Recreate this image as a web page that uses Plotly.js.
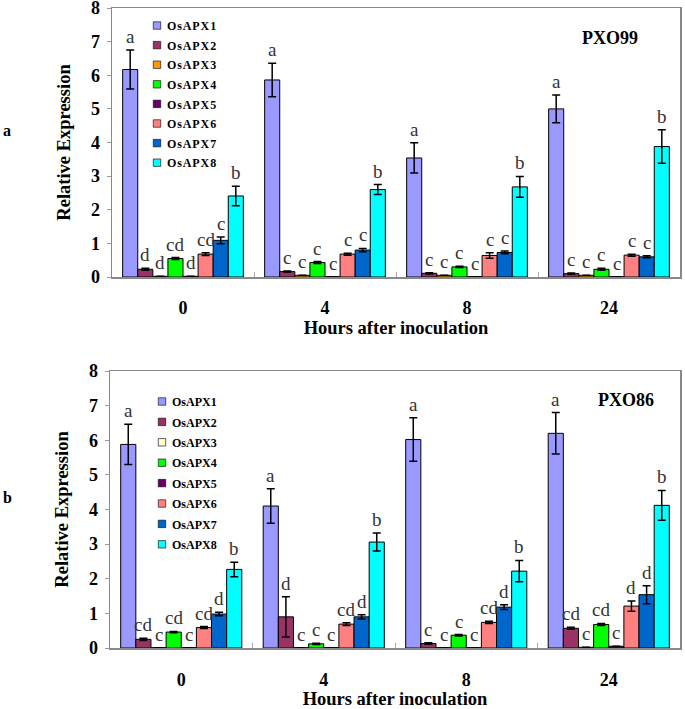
<!DOCTYPE html>
<html><head><meta charset="utf-8">
<script src="https://cdn.plot.ly/plotly-3.0.1.min.js"></script>
<style>
body{margin:0;padding:0;background:#fff;}
#chart{width:685px;height:709px;}
.legendtext{letter-spacing:0.9px;}
.legendpoints path{transform:translate(30px,0px) scale(0.62);}
</style>
</head><body>
<div id="chart"></div>
<script>
// ---- data ----
const hours = ["0", "4", "8", "24"];
const genes = ["OsAPX1","OsAPX2","OsAPX3","OsAPX4","OsAPX5","OsAPX6","OsAPX7","OsAPX8"];

// PXO99 (top panel): one array per gene, across hours 0,4,8,24
const pxo99_APX1 = [6.17, 5.86, 3.54, 5.00];
const pxo99_APX2 = [0.23, 0.16, 0.11, 0.10];
const pxo99_APX3 = [0.02, 0.05, 0.05, 0.05];
const pxo99_APX4 = [0.55, 0.43, 0.30, 0.23];
const pxo99_APX5 = [0.02, 0.01, 0.01, 0.01];
const pxo99_APX6 = [0.68, 0.68, 0.64, 0.65];
const pxo99_APX7 = [1.09, 0.80, 0.73, 0.60];
const pxo99_APX8 = [2.41, 2.60, 2.68, 3.88];
const pxo99_err_APX1 = [0.58, 0.50, 0.45, 0.41];
const pxo99_err_APX2 = [0.03, 0.02, 0.02, 0.02];
const pxo99_err_APX3 = [0, 0, 0, 0];
const pxo99_err_APX4 = [0.03, 0.03, 0.02, 0.03];
const pxo99_err_APX5 = [0, 0, 0, 0];
const pxo99_err_APX6 = [0.04, 0.03, 0.08, 0.03];
const pxo99_err_APX7 = [0.10, 0.05, 0.04, 0.03];
const pxo99_err_APX8 = [0.29, 0.15, 0.31, 0.50];
const pxo99_lab_APX1 = ["a","a","a","a"];
const pxo99_lab_APX2 = ["d","c","c","c"];
const pxo99_lab_APX3 = ["d","c","c","c"];
const pxo99_lab_APX4 = ["cd","c","c","c"];
const pxo99_lab_APX5 = ["d","c","c","c"];
const pxo99_lab_APX6 = ["cd","c","c","c"];
const pxo99_lab_APX7 = ["c","c","c","c"];
const pxo99_lab_APX8 = ["b","b","b","b"];

// PXO86 (bottom panel)
const pxo86_APX1 = [5.88, 4.10, 6.02, 6.20];
const pxo86_APX2 = [0.25, 0.90, 0.13, 0.57];
const pxo86_APX3 = [0.01, 0.01, 0.01, 0.02];
const pxo86_APX4 = [0.46, 0.12, 0.37, 0.68];
const pxo86_APX5 = [0.01, 0.01, 0.01, 0.05];
const pxo86_APX6 = [0.59, 0.69, 0.74, 1.21];
const pxo86_APX7 = [0.98, 0.90, 1.18, 1.54];
const pxo86_APX8 = [2.27, 3.06, 2.22, 4.12];
const pxo86_err_APX1 = [0.58, 0.50, 0.63, 0.60];
const pxo86_err_APX2 = [0.03, 0.58, 0.02, 0.03];
const pxo86_err_APX3 = [0, 0, 0, 0];
const pxo86_err_APX4 = [0.02, 0.02, 0.02, 0.03];
const pxo86_err_APX5 = [0, 0, 0, 0];
const pxo86_err_APX6 = [0.03, 0.04, 0.03, 0.15];
const pxo86_err_APX7 = [0.05, 0.06, 0.07, 0.26];
const pxo86_err_APX8 = [0.21, 0.26, 0.31, 0.43];
const pxo86_lab_APX1 = ["a","a","a","a"];
const pxo86_lab_APX2 = ["cd","d","c","cd"];
const pxo86_lab_APX3 = ["c","c","c","c"];
const pxo86_lab_APX4 = ["cd","c","c","cd"];
const pxo86_lab_APX5 = ["c","c","c","c"];
const pxo86_lab_APX6 = ["cd","cd","cd","d"];
const pxo86_lab_APX7 = ["d","d","d","d"];
const pxo86_lab_APX8 = ["b","b","b","b"];

const yTicks = [0,1,2,3,4,5,6,7,8];

// ---- styles ----
const colorsTop = ["#9999FF","#993366","#FF9900","#00FF00","#660066","#FF8080","#0066CC","#00FFFF"];
const colorsBot = ["#9999FF","#993366","#FFFFCC","#00FF00","#660066","#FF8080","#0066CC","#00FFFF"];
const SERIF = "Liberation Serif, Times New Roman, serif";

const topVals = [pxo99_APX1,pxo99_APX2,pxo99_APX3,pxo99_APX4,pxo99_APX5,pxo99_APX6,pxo99_APX7,pxo99_APX8];
const topErr  = [pxo99_err_APX1,pxo99_err_APX2,pxo99_err_APX3,pxo99_err_APX4,pxo99_err_APX5,pxo99_err_APX6,pxo99_err_APX7,pxo99_err_APX8];
const topLab  = [pxo99_lab_APX1,pxo99_lab_APX2,pxo99_lab_APX3,pxo99_lab_APX4,pxo99_lab_APX5,pxo99_lab_APX6,pxo99_lab_APX7,pxo99_lab_APX8];
const botVals = [pxo86_APX1,pxo86_APX2,pxo86_APX3,pxo86_APX4,pxo86_APX5,pxo86_APX6,pxo86_APX7,pxo86_APX8];
const botErr  = [pxo86_err_APX1,pxo86_err_APX2,pxo86_err_APX3,pxo86_err_APX4,pxo86_err_APX5,pxo86_err_APX6,pxo86_err_APX7,pxo86_err_APX8];
const botLab  = [pxo86_lab_APX1,pxo86_lab_APX2,pxo86_lab_APX3,pxo86_lab_APX4,pxo86_lab_APX5,pxo86_lab_APX6,pxo86_lab_APX7,pxo86_lab_APX8];

const BARGAP = 0.15;
const nS = genes.length;
const bw = (1 - BARGAP) / nS;

const traces = [];
const annotations = [];

function addPanel(vals, errs, labs, colors, xa, ya, legendId) {
  for (let i = 0; i < nS; i++) {
    traces.push({
      type: "bar",
      name: genes[i],
      legendgroup: legendId + "_" + i,
      x: hours,
      y: vals[i],
      xaxis: xa, yaxis: ya,
      legend: legendId,
      marker: {color: colors[i], line: {color: "#000", width: 1}},
      error_y: {type: "data", array: errs[i], visible: true, color: "#000", thickness: 1.5, width: 4},
      hoverinfo: "skip"
    });
    const off = -(1 - BARGAP) / 2 + (i + 0.5) * bw;
    for (let g = 0; g < hours.length; g++) {
      annotations.push({
        xref: xa, yref: ya,
        x: g + off, y: vals[i][g] + errs[i][g],
        text: labs[i][g], showarrow: false,
        xanchor: "center", yanchor: "bottom", yshift: 1,
        font: {family: SERIF, size: 19, color: "#333"}
      });
    }
  }
}
addPanel(topVals, topErr, topLab, colorsTop, "x", "y", "legend");
addPanel(botVals, botErr, botLab, colorsBot, "x2", "y2", "legend2");

const W = 685, H = 709;
function xd(a, b) { return [a / W, b / W]; }
function yd(top, bot) { return [1 - bot / H, 1 - top / H]; }

const boldFont = (s) => ({family: SERIF, size: s, color: "#000", weight: "bold"});

const xCommon = {
  type: "category",
  tickfont: boldFont(18),
  ticks: "inside", tickson: "boundaries", ticklen: 5, tickcolor: "#aaa",
  showline: true, linecolor: "#888", linewidth: 1.5, mirror: true,
  showgrid: false, zeroline: false
};
const yCommon = {
  range: [0, 8], tickvals: yTicks, ticktext: yTicks.map(String),
  tickfont: boldFont(18),
  ticks: "outside", ticklen: 4, tickcolor: "#999",
  ticklabelstandoff: 3, ticklabeloverflow: "allow",
  showline: true, linecolor: "#888", linewidth: 1.5, mirror: true,
  showgrid: false, zeroline: false,
  title: {text: "Relative Expression", font: boldFont(18.5), standoff: 15}
};

const legendCommon = {
  font: {family: SERIF, size: 12, color: "#000", weight: "bold"},
  bgcolor: "rgba(0,0,0,0)", borderwidth: 0,
  traceorder: "grouped", itemwidth: 30,
  xanchor: "left", yanchor: "top", itemclick: false
};

const layout = {
  width: W, height: H,
  margin: {l: 0, r: 0, t: 0, b: 0},
  paper_bgcolor: "#fff", plot_bgcolor: "#fff",
  barmode: "group", bargap: BARGAP, bargroupgap: 0,
  showlegend: true,
  xaxis: Object.assign({}, xCommon, {domain: xd(112, 680), anchor: "y", ticklabelstandoff: 14,
    title: {text: "Hours after inoculation", font: boldFont(18.5), standoff: 2}}),
  yaxis: Object.assign({}, yCommon, {domain: yd(8, 277), anchor: "x"}),
  xaxis2: Object.assign({}, xCommon, {domain: xd(110, 680), anchor: "y2", ticklabelstandoff: 15,
    title: {text: "Hours after inoculation", font: boldFont(18.5), standoff: 15}}),
  yaxis2: Object.assign({}, yCommon, {domain: yd(371, 648), anchor: "x2"}),
  legend: Object.assign({}, legendCommon, {x: 127 / W, y: 1 - 11 / H, tracegroupgap: 0.6}),
  legend2: Object.assign({}, legendCommon, {x: 132 / W, y: 1 - 387 / H, tracegroupgap: 1.4}),
  annotations: annotations.concat([
    {xref: "paper", yref: "paper", x: 610 / W, y: 1 - 38 / H, text: "PXO99", showarrow: false,
     xanchor: "center", yanchor: "middle", font: boldFont(18)},
    {xref: "paper", yref: "paper", x: 626 / W, y: 1 - 400 / H, text: "PXO86", showarrow: false,
     xanchor: "center", yanchor: "middle", font: boldFont(18)},
    {xref: "paper", yref: "paper", x: 7 / W, y: 1 - 131 / H, text: "a", showarrow: false,
     xanchor: "center", yanchor: "middle", font: boldFont(16)},
    {xref: "paper", yref: "paper", x: 7 / W, y: 1 - 497 / H, text: "b", showarrow: false,
     xanchor: "center", yanchor: "middle", font: boldFont(16)}
  ])
};

Plotly.newPlot("chart", traces, layout, {displayModeBar: false, staticPlot: true});
</script>
</body></html>
